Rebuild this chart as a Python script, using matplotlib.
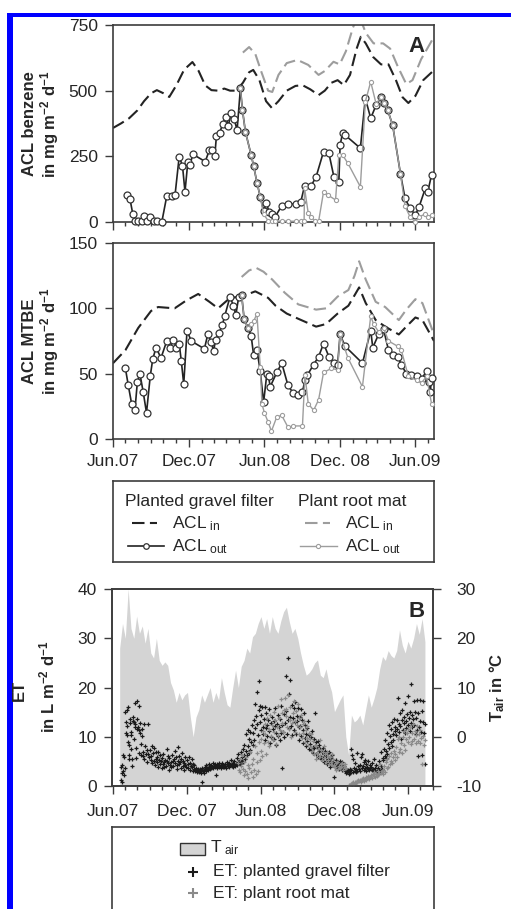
import numpy as np
import pandas as pd
import matplotlib
matplotlib.use("Agg")
import matplotlib.pyplot as plt
import matplotlib.dates as mdates
from matplotlib.patches import Rectangle

plt.rcParams['font.family'] = ['Liberation Sans', 'DejaVu Sans']
plt.rcParams['mathtext.fontset'] = 'custom'
plt.rcParams['mathtext.rm'] = 'Liberation Sans'
plt.rcParams['mathtext.it'] = 'Liberation Sans:italic'
plt.rcParams['mathtext.bf'] = 'Liberation Sans:bold'
plt.rcParams['axes.unicode_minus'] = False

# ---- benzene areal contaminant load (mg m-2 d-1) ----
ben_in_pgf_d = ["2007-06-01", "2007-06-20", "2007-07-10", "2007-07-30", "2007-08-15", "2007-09-01",
                "2007-09-15", "2007-10-01", "2007-10-15", "2007-11-01", "2007-11-20", "2007-12-10",
                "2007-12-25", "2008-01-10", "2008-01-25", "2008-02-10", "2008-02-25", "2008-03-10",
                "2008-03-25", "2008-04-10", "2008-04-25", "2008-05-05", "2008-05-20", "2008-06-05",
                "2008-06-19", "2008-07-05", "2008-07-25", "2008-08-15", "2008-09-01", "2008-09-20",
                "2008-10-10", "2008-10-25", "2008-11-10", "2008-11-25", "2008-12-10", "2008-12-25",
                "2009-01-10", "2009-01-20", "2009-02-01", "2009-02-19", "2009-03-10", "2009-03-28",
                "2009-04-15", "2009-05-01", "2009-05-15", "2009-06-01", "2009-06-20", "2009-07-16"]
ben_in_pgf = [358, 375, 395, 425, 460, 490, 502, 490, 476, 520, 580, 609,
              575, 520, 502, 500, 508, 500, 500, 530, 570, 579, 540, 460,
              434, 460, 500, 518, 521, 505, 483, 500, 530, 540, 521, 560,
              660, 705, 680, 628, 600, 600, 540, 475, 453, 480, 540, 578]

ben_in_prm_d = ["2008-04-10", "2008-04-25", "2008-05-10", "2008-05-25", "2008-06-10", "2008-06-20",
                "2008-07-05", "2008-07-25", "2008-08-20", "2008-09-15", "2008-10-10", "2008-10-25",
                "2008-11-15", "2008-11-30", "2008-12-15", "2009-01-01", "2009-01-15", "2009-02-01",
                "2009-02-20", "2009-03-15", "2009-04-01", "2009-04-20", "2009-05-10", "2009-05-25",
                "2009-06-15", "2009-07-16"]
ben_in_prm = [645, 666, 640, 570, 500, 495, 560, 605, 617, 598, 560, 575,
              610, 600, 650, 740, 790, 720, 680, 680, 660, 590, 525, 540,
              620, 705]

ben_out_pgf_d = ["2007-07-04", "2007-07-12", "2007-07-19", "2007-07-24", "2007-08-01", "2007-08-09",
                 "2007-08-16", "2007-08-22", "2007-08-30", "2007-09-07", "2007-09-15", "2007-09-27",
                 "2007-10-09", "2007-10-21", "2007-10-29", "2007-11-08", "2007-11-16", "2007-11-22",
                 "2007-11-29", "2007-12-04", "2007-12-11", "2008-01-10", "2008-01-20", "2008-01-26",
                 "2008-02-02", "2008-02-06", "2008-02-14", "2008-02-21", "2008-02-29", "2008-03-06",
                 "2008-03-12", "2008-03-20", "2008-03-27", "2008-04-04", "2008-04-09", "2008-04-16",
                 "2008-04-30", "2008-05-06", "2008-05-14", "2008-05-22", "2008-05-30", "2008-06-06",
                 "2008-06-12", "2008-06-19", "2008-06-27", "2008-07-13", "2008-07-28", "2008-08-16",
                 "2008-08-28", "2008-09-06", "2008-09-22", "2008-10-04", "2008-10-22", "2008-11-04",
                 "2008-11-16", "2008-11-28", "2008-12-01", "2008-12-07", "2008-12-13", "2009-01-19",
                 "2009-01-31", "2009-02-13", "2009-02-26", "2009-03-11", "2009-03-18", "2009-03-26",
                 "2009-04-07", "2009-04-26", "2009-05-07", "2009-05-19", "2009-06-01", "2009-06-10",
                 "2009-06-25", "2009-07-01", "2009-07-10"]
ben_out_pgf = [103, 88, 29, 4, 4, 4, 23, 4, 18, 4, 4, 0,
               99, 99, 103, 249, 214, 115, 230, 217, 258, 230, 274, 274,
               251, 327, 340, 373, 401, 365, 416, 391, 350, 509, 426, 344,
               255, 213, 150, 96, 43, 72, 39, 30, 20, 62, 70, 67,
               77, 137, 138, 172, 268, 261, 172, 153, 293, 338, 331, 281,
               471, 395, 445, 477, 452, 426, 369, 183, 90, 52, 27, 58,
               128, 115, 179]

ben_out_prm_d = ["2008-04-04", "2008-04-09", "2008-04-16", "2008-04-30", "2008-05-06", "2008-05-14",
                 "2008-05-22", "2008-05-30", "2008-06-10", "2008-06-19", "2008-06-27", "2008-07-13",
                 "2008-07-28", "2008-08-16", "2008-08-28", "2008-09-05", "2008-09-06", "2008-09-15",
                 "2008-09-22", "2008-10-01", "2008-10-10", "2008-10-22", "2008-11-01", "2008-11-20",
                 "2008-11-28", "2008-12-07", "2008-12-20", "2009-01-19", "2009-01-31", "2009-02-13",
                 "2009-02-26", "2009-03-11", "2009-03-18", "2009-03-26", "2009-04-07", "2009-04-26",
                 "2009-05-07", "2009-05-19", "2009-06-01", "2009-06-10", "2009-06-25", "2009-07-01",
                 "2009-07-10"]
ben_out_prm = [509, 426, 344, 255, 213, 150, 96, 30, 5, 3, 2, 4,
               3, 3, 4, 4, 130, 33, 20, 3, 2, 115, 103, 84,
               255, 255, 223, 134, 458, 534, 450, 477, 452, 426, 369, 183,
               60, 20, 0, 20, 30, 20, 25]

# ---- MTBE areal contaminant load (mg m-2 d-1) ----
mtbe_in_pgf_d = ["2007-06-01", "2007-07-01", "2007-08-01", "2007-09-01", "2007-09-18", "2007-10-28",
                 "2007-11-25", "2007-12-24", "2008-01-20", "2008-02-10", "2008-03-10", "2008-04-07",
                 "2008-05-10", "2008-06-10", "2008-06-28", "2008-07-25", "2008-08-22", "2008-10-04",
                 "2008-10-28", "2008-11-25", "2008-12-21", "2009-01-05", "2009-01-16", "2009-02-01",
                 "2009-02-25", "2009-03-20", "2009-04-22", "2009-05-10", "2009-06-01", "2009-06-18",
                 "2009-07-16"]
mtbe_in_pgf = [58, 68, 85, 98, 101, 100, 106, 111, 105, 100, 108, 109,
               113, 108, 102, 96, 92, 86, 88, 96, 102, 110, 116, 104,
               91, 86, 80, 86, 93, 91, 75]

mtbe_in_prm_d = ["2008-04-07", "2008-04-25", "2008-05-12", "2008-05-30", "2008-06-20", "2008-07-20",
                 "2008-08-22", "2008-10-04", "2008-10-28", "2008-11-25", "2008-12-21", "2009-01-05",
                 "2009-01-16", "2009-02-01", "2009-02-25", "2009-03-20", "2009-04-22", "2009-05-10",
                 "2009-06-01", "2009-06-18", "2009-07-16"]
mtbe_in_prm = [124, 129, 131, 128, 122, 112, 103, 99, 100, 109, 114, 125,
               136, 122, 105, 101, 91, 99, 107, 104, 80]

mtbe_out_pgf_d = ["2007-07-01", "2007-07-08", "2007-07-16", "2007-07-24", "2007-07-30", "2007-08-05",
                  "2007-08-13", "2007-08-21", "2007-08-30", "2007-09-05", "2007-09-13", "2007-09-25",
                  "2007-10-09", "2007-10-17", "2007-10-25", "2007-11-01", "2007-11-08", "2007-11-13",
                  "2007-11-19", "2007-11-27", "2007-12-07", "2008-01-08", "2008-01-16", "2008-01-25",
                  "2008-01-30", "2008-02-04", "2008-02-12", "2008-02-20", "2008-02-26", "2008-03-10",
                  "2008-03-18", "2008-03-24", "2008-03-31", "2008-04-07", "2008-04-13", "2008-04-22",
                  "2008-04-30", "2008-05-06", "2008-05-14", "2008-05-22", "2008-05-30", "2008-06-07",
                  "2008-06-11", "2008-06-15", "2008-07-01", "2008-07-13", "2008-07-28", "2008-08-10",
                  "2008-08-22", "2008-09-01", "2008-09-07", "2008-09-13", "2008-09-28", "2008-10-10",
                  "2008-10-22", "2008-11-04", "2008-11-16", "2008-11-25", "2008-12-01", "2008-12-13",
                  "2009-01-24", "2009-02-13", "2009-02-18", "2009-03-04", "2009-03-16", "2009-03-28",
                  "2009-04-09", "2009-04-19", "2009-04-28", "2009-05-10", "2009-05-22", "2009-06-04",
                  "2009-06-16", "2009-06-28", "2009-07-04", "2009-07-07", "2009-07-10"]
mtbe_out_pgf = [54, 41, 27, 22, 44, 50, 36, 20, 48, 61, 70, 62,
                75, 70, 76, 70, 73, 60, 42, 83, 75, 69, 80, 74,
                67, 76, 81, 87, 94, 109, 102, 95, 109, 110, 92, 85,
                79, 64, 68, 52, 28, 50, 48, 40, 51, 58, 41, 35,
                34, 36, 45, 49, 57, 63, 73, 63, 58, 57, 80, 71,
                58, 83, 70, 80, 84, 68, 64, 63, 57, 50, 49, 48,
                46, 52, 44, 36, 47]

mtbe_out_prm_d = ["2008-04-07", "2008-04-13", "2008-04-22", "2008-04-30", "2008-05-06", "2008-05-14",
                  "2008-05-22", "2008-05-26", "2008-06-01", "2008-06-10", "2008-06-18", "2008-07-01",
                  "2008-07-13", "2008-07-28", "2008-08-10", "2008-09-01", "2008-09-07", "2008-09-15",
                  "2008-09-28", "2008-10-10", "2008-10-22", "2008-11-10", "2008-11-25", "2008-12-01",
                  "2008-12-20", "2009-01-24", "2009-02-13", "2009-02-20", "2009-03-04", "2009-03-16",
                  "2009-03-28", "2009-04-19", "2009-04-28", "2009-05-15", "2009-06-04", "2009-06-16",
                  "2009-06-28", "2009-07-10"]
mtbe_out_prm = [110, 92, 85, 88, 90, 96, 55, 27, 20, 13, 6, 17,
                18, 9, 10, 10, 49, 27, 22, 30, 51, 54, 53, 80,
                62, 40, 94, 88, 82, 85, 75, 71, 68, 48, 45, 43,
                48, 27]

# ---- air temperature, weekly (deg C) ----
t_air_start = "2007-06-18"
t_air = [18, 23, 20, 30, 22, 20, 24.5, 21, 22.5, 19,
         22, 17, 16, 20, 15.5, 14.5, 15.2, 14.5, 11, 9.5,
         7, 9, 7.5, 8.5, 9, 4, 0, 4, 5.5, 8.5,
         7, 8.5, 10, 7, 9, 7.5, 12, 9, 6.5, 6,
         10, 13.5, 10, 14.3, 15.5, 18, 17, 20.3, 21, 23,
         24.4, 22, 24, 21, 24.4, 22, 21, 23.5, 25.4, 26.3,
         23.4, 21, 22, 20, 17, 14.5, 12.5, 13, 13.8, 15,
         15.6, 12.5, 12, 13.8, 11, 9.1, 5.1, 6.3, 7.5, 8.5,
         0, -3.7, 4.4, 3, 3.5, 4.4, 2.4, 5.5, 8.5, 6,
         7.8, 10, 13.8, 16.3, 15.5, 17.5, 16.5, 16, 17.5, 21.7,
         18.6, 17, 19.4, 18, 20, 23, 20.8, 24, 19.3]

# ---- evapotranspiration (L m-2 d-1), day counted from 1 June 2007 ----
et_pgf_day = [20, 21, 22, 23, 24, 25, 26, 27, 28, 29, 31, 32, 33, 34, 35, 36, 37, 38, 39, 40,
              41, 42, 43, 44, 45, 46, 47, 48, 49, 50, 52, 53, 54, 55, 56, 57, 58, 59, 60, 61,
              63, 64, 65, 66, 67, 68, 70, 71, 72, 73, 75, 76, 77, 78, 80, 82, 84, 85, 87, 88,
              90, 92, 94, 95, 97, 98, 100, 101, 103, 104, 106, 107, 109, 110, 112, 113, 115, 116, 118, 119, 121,
              122, 124, 125, 127, 128, 130, 131, 133, 134, 136, 137, 139, 140, 142, 143, 145, 146, 148, 149, 151,
              153, 155, 156, 158, 159, 161, 162, 164, 165, 167, 168, 170, 171, 173, 174, 176, 177, 179, 180, 182,
              184, 186, 187, 189, 190, 192, 193, 195, 196, 198, 199, 201, 202, 204, 205, 207, 208, 210, 211, 213,
              214, 216, 217, 219, 220, 221, 222, 223, 225, 226, 228, 229, 231, 232, 234, 235, 237, 238, 240, 241, 243,
              244, 246, 247, 249, 250, 252, 253, 255, 256, 258, 259, 261, 262, 264, 265, 267, 268, 270, 271, 273,
              274, 276, 277, 279, 280, 282, 283, 285, 286, 288, 289, 291, 292, 294, 295, 297, 298, 300, 301, 303,
              305, 307, 308, 310, 311, 313, 314, 316, 317, 319, 320, 322, 323, 325, 326, 328, 329, 331, 332, 334,
              335, 337, 338, 340, 341, 343, 344, 346, 347, 349, 350, 352, 353, 355, 356, 358, 359, 361, 362, 364,
              365, 367, 368, 370, 371, 373, 374, 376, 377, 379, 380, 382, 383, 385, 386, 388, 389, 391, 392, 394,
              396, 398, 399, 401, 402, 404, 405, 407, 408, 410, 411, 413, 414, 416, 417, 419, 420, 422, 423, 425,
              427, 428, 430, 431, 433, 434, 436, 437, 439, 440, 442, 443, 445, 446, 448, 449, 451, 452, 454, 455,
              457, 458, 460, 461, 463, 464, 466, 467, 469, 470, 472, 473, 475, 476, 478, 479, 481, 482, 484, 485,
              487, 489, 490, 492, 493, 495, 496, 498, 499, 501, 502, 504, 505, 507, 508, 510, 511, 513, 514, 516,
              518, 520, 521, 523, 524, 526, 527, 529, 530, 532, 533, 535, 536, 538, 539, 541, 542, 544, 545, 547,
              549, 550, 552, 553, 555, 556, 558, 559, 561, 562, 564, 565, 567, 568, 570, 571, 573, 574, 576, 577,
              579, 581, 582, 584, 585, 587, 588, 590, 591, 593, 594, 596, 597, 599, 600, 602, 603, 605, 606, 608,
              610, 612, 613, 615, 616, 618, 619, 621, 622, 624, 625, 627, 628, 630, 631, 633, 634, 636, 637,
              639, 641, 642, 644, 645, 647, 648, 650, 651, 653, 654, 656, 657, 659, 660, 662, 663, 665, 666, 668,
              670, 671, 673, 674, 676, 677, 679, 680, 682, 683, 685, 686, 688, 689, 691, 692, 694, 695, 697, 698,
              700, 702, 703, 705, 706, 708, 709, 711, 712, 714, 715, 717, 718, 720, 721, 723, 724, 726, 727, 729,
              730, 732, 733, 735, 736, 738, 739, 741, 742, 744, 745, 747, 748, 750, 751, 753, 754, 756, 757, 759,
              760, 762, 763, 765, 766, 768, 769, 771, 772, 774]
et_pgf = [3.9, 1.2, 2.6, 0.8, 4.2, 3.1, 6.3, 5.8, 2.2, 3.6, 15.1, 13.0, 10.7, 15.5, 10.3, 12.2, 16.1, 9.0, 8.3, 6.3,
          5.5, 12.8, 13.6, 11.0, 10.4, 7.6, 5.4, 4.1, 13.2, 14.0, 9.6, 12.9, 16.8, 11.9, 12.5, 7.8, 5.6, 13.6, 17.2, 11.5,
          12.0, 16.3, 11.3, 6.8, 10.8, 12.7, 6.3, 8.6, 11.6, 10.1, 6.1, 7.0, 12.5, 5.4, 8.2, 6.4, 7.4, 4.9, 12.6, 6.5,
          5.8, 7.4, 6.1, 5.2, 8.1, 4.6, 6.6, 5.0, 7.7, 4.3, 5.5, 6.9, 4.8, 5.9, 3.9, 7.0, 5.3, 4.4, 6.2, 5.1, 3.6,
          5.6, 4.5, 6.4, 4.9, 3.8, 5.3, 4.1, 7.6, 5.0, 4.6, 6.0, 3.3, 5.7, 4.3, 4.9, 3.9, 6.3, 5.1, 4.0, 5.5,
          4.6, 7.2, 5.9, 4.2, 3.5, 5.1, 7.9, 4.5, 6.0, 4.8, 3.7, 5.4, 6.6, 4.1, 5.0, 3.2, 4.7, 5.8, 4.3, 3.9,
          5.2, 4.4, 3.6, 5.9, 4.7, 3.3, 4.0, 5.4, 3.8, 4.5, 3.1, 4.2, 3.5, 3.0, 3.7, 3.2, 2.9, 3.4, 3.1, 2.8,
          3.3, 3.0, 3.5, 2.7, 3.2, 0.9, 3.6, 3.0, 3.3, 2.6, 3.4, 3.9, 3.1, 4.2, 3.6, 3.2, 3.8, 4.4, 3.5, 4.0, 3.7,
          4.3, 3.9, 4.6, 3.6, 4.1, 3.8, 4.5, 2.3, 4.0, 4.4, 3.7, 4.2, 3.9, 4.7, 4.1, 3.6, 4.3, 4.0, 4.6, 3.8,
          4.2, 3.9, 4.5, 4.1, 3.7, 4.4, 4.9, 4.0, 4.3, 3.8, 4.6, 4.2, 5.3, 4.0, 4.4, 3.9, 4.7, 4.3, 5.0, 4.1,
          4.5, 5.6, 4.2, 4.8, 6.4, 4.6, 5.2, 4.4, 6.9, 5.0, 5.8, 7.6, 4.9, 6.2, 8.4, 5.5, 7.1, 10.6, 6.3, 11.3,
          8.2, 6.8, 9.6, 7.4, 10.9, 9.0, 12.3, 8.3, 10.7, 13.5, 9.4, 16.6, 11.8, 14.2, 19.1, 12.6, 10.3, 15.4, 21.4, 13.0,
          16.3, 11.4, 14.5, 16.0, 12.0, 10.6, 13.7, 16.1, 9.4, 11.8, 14.8, 12.4, 10.2, 13.3, 15.6, 11.1, 8.8, 12.7, 10.0, 14.0,
          11.5, 13.2, 9.6, 12.1, 15.9, 10.8, 8.3, 12.6, 14.4, 10.1, 11.9, 9.3, 13.6, 16.2, 10.7, 3.6, 12.3, 11.0, 14.6, 9.9,
          12.8, 22.3, 15.2, 10.5, 13.4, 26.0, 11.7, 18.6, 14.1, 21.5, 12.2, 16.4, 10.3, 13.8, 15.9, 11.4, 12.9, 17.1, 10.6, 14.3,
          13.2, 15.8, 11.9, 9.4, 14.0, 12.1, 15.6, 10.2, 13.5, 8.7, 11.3, 14.9, 9.8, 12.4, 10.6, 8.1, 11.7, 9.2, 13.1, 7.6,
          10.4, 8.6, 9.9, 7.3, 11.2, 8.0, 6.6, 9.5, 7.8, 14.8, 8.9, 6.4, 7.9, 9.1, 5.9, 7.2, 8.4, 6.1, 7.6, 5.4,
          6.9, 7.8, 5.6, 6.5, 4.9, 7.2, 6.0, 5.1, 4.4, 6.8, 5.4, 4.6, 7.0, 5.0, 3.9, 5.7, 4.3, 6.2, 4.8, 1.9,
          4.5, 3.8, 4.3, 5.2, 3.6, 4.7, 4.0, 3.4, 4.4, 5.0, 3.7, 4.2, 3.3, 4.8, 3.9, 3.5, 4.1, 3.0, 3.6, 2.6,
          3.1, 2.8, 3.3, 2.5, 3.0, 3.5, 2.7, 7.5, 3.2, 6.2, 2.9, 5.5, 3.6, 3.1, 4.6, 2.8, 3.4, 6.8, 3.0, 4.1,
          3.5, 4.2, 3.0, 5.8, 3.7, 6.5, 4.0, 3.3, 4.9, 3.6, 5.3, 3.1, 4.4, 3.8, 3.4, 5.0, 3.2, 4.3, 3.7,
          3.9, 3.3, 4.6, 3.0, 3.5, 5.4, 3.2, 3.7, 2.9, 4.2, 3.1, 3.6, 3.0, 5.0, 3.3, 2.8, 4.0, 6.9, 3.4, 5.6,
          5.3, 7.6, 6.0, 9.4, 5.6, 7.2, 10.8, 6.5, 8.6, 12.4, 7.8, 10.2, 9.0, 11.6, 8.1, 12.9, 10.5, 9.3, 13.6, 11.1,
          12.0, 10.4, 13.5, 11.6, 17.8, 12.6, 10.9, 14.8, 12.2, 9.6, 13.3, 15.4, 11.4, 12.8, 14.0, 10.7, 16.9, 13.1, 11.8, 14.6,
          12.4, 18.2, 13.8, 11.2, 15.1, 12.7, 20.7, 14.4, 11.9, 13.6, 17.2, 12.3, 15.0, 10.6, 13.9, 17.4, 11.4, 6.1, 14.8, 12.0,
          17.5, 13.2, 11.0, 15.3, 6.2, 13.0, 17.3, 10.8, 4.5, 12.6]

et_prm_day = [310, 312, 314, 316, 318, 320, 322, 324, 326, 328, 330, 332, 334, 336, 338, 340, 342, 344, 346, 348,
              350, 352, 354, 356, 358, 360, 362, 364,
              366, 368, 370, 372, 374, 376, 378, 380, 382, 384, 386, 388, 390, 392, 394, 396, 398, 400, 402, 404,
              406, 408, 410, 412, 414, 416, 418, 420, 422, 424,
              426, 428, 430, 432, 434, 436, 438, 440, 442, 444, 446, 448, 450, 452, 454, 456, 458, 460, 462, 464,
              466, 468, 470, 472, 474, 476, 478, 480, 482, 484, 486,
              488, 490, 492, 494, 496, 498, 500, 502, 504, 506, 508, 510, 512, 514, 516, 518, 520, 522, 524, 526,
              528, 530, 532, 534, 536, 538, 540, 542, 544, 546,
              548, 550, 552, 554, 556, 558, 560, 562, 564, 566, 568, 570, 572, 574, 576,
              584, 586, 588, 590, 592, 594, 596, 598, 600, 602, 604, 606, 608,
              610, 612, 614, 616, 618, 620, 622, 624, 626, 628, 630, 632, 634, 636,
              638, 640, 642, 644, 646, 648, 650, 652, 654, 656, 658, 660, 662, 664, 666, 668,
              670, 672, 674, 676, 678, 680, 682, 684, 686, 688, 690, 692, 694, 696, 698,
              700, 702, 704, 706, 708, 710, 712, 714, 716, 718, 720, 722, 724, 726, 728,
              730, 732, 734, 736, 738, 740, 742, 744, 746, 748, 750, 752, 754, 756, 758, 760, 762, 764, 766, 768,
              770, 772]
et_prm = [4.6, 3.2, 5.4, 2.8, 4.0, 6.3, 3.5, 2.2, 4.8, 3.0, 5.9, 2.5, 4.2, 1.6, 3.6, 7.0, 2.9, 4.5, 1.9, 5.5,
          3.3, 8.2, 2.4, 4.9, 6.6, 3.1, 9.0, 5.2,
          7.2, 9.5, 6.0, 11.2, 8.8, 12.5, 10.5, 6.5, 13.8, 9.0, 11.6, 8.1, 14.5, 10.2, 12.3, 9.4, 15.1, 11.0, 13.4, 8.6,
          12.0, 16.3, 10.4, 13.9, 11.3, 17.6, 12.7, 14.8, 10.9, 15.5,
          17.8, 15.6, 14.2, 12.0, 18.5, 11.5, 13.5, 16.0, 10.0, 12.8, 14.8, 17.2, 13.1, 11.0, 15.3, 12.4, 16.7, 10.6, 13.8, 11.9,
          14.5, 9.7, 12.6, 10.8, 13.2, 8.9, 11.4, 9.8, 12.1, 8.4, 10.7,
          9.6, 8.0, 10.5, 7.2, 9.1, 6.5, 8.4, 5.5, 8.2, 6.8, 7.6, 5.9, 9.3, 6.2, 7.4, 5.3, 6.9, 8.1, 5.6, 6.4,
          4.8, 7.0, 5.2, 6.1, 4.5, 5.8, 4.9, 6.5, 4.2, 5.4,
          4.2, 3.8, 4.6, 3.2, 4.9, 3.5, 4.0, 3.6, 4.4, 3.9, 4.7, 3.3, 4.1, 3.7, 4.5,
          0.1, 0.3, 0.2, 0.4, 0.6, 0.3, 0.8, 0.5, 0.9, 0.7, 1.0, 0.8, 1.2,
          1.0, 1.3, 0.9, 1.5, 1.2, 1.7, 1.1, 1.4, 1.8, 1.3, 1.6, 2.0, 1.5, 1.9,
          1.8, 2.2, 1.6, 2.5, 2.0, 2.8, 1.9, 2.4, 2.1, 3.0, 2.3, 2.7, 4.5, 2.6, 3.1, 2.4,
          3.2, 4.0, 2.9, 4.8, 3.6, 5.5, 3.9, 6.0, 4.4, 5.1, 6.7, 4.6, 5.8, 7.2, 5.3,
          6.5, 8.0, 5.9, 9.5, 7.0, 10.0, 7.6, 8.8, 6.8, 9.9, 8.3, 11.2, 7.4, 9.6, 10.7,
          9.0, 11.5, 10.0, 12.0, 8.5, 9.2, 10.8, 12.6, 9.5, 11.1, 8.7, 10.3, 12.2, 9.1, 10.6, 8.8, 11.4, 9.7, 4.5, 10.1,
          8.3, 9.4]

# ---- tick labels ----
tick_dates = ["2007-06-01", "2007-12-01", "2008-06-01", "2008-12-01", "2009-06-01"]
tick_lab_top = ["Jun.07", "Dec.07", "Jun.08", "Dec. 08", "Jun.09"]
tick_lab_b = ["Jun.07", "Dec. 07", "Jun.08", "Dec.08", "Jun.09"]

TXT = '#262626'
SPINE = '#3c3c3c'
BLK = '#232323'
GRY = '#9d9d9d'


def dt(lst):
    return np.array(lst, dtype='datetime64[D]')


W, H = 511, 909
fig = plt.figure(figsize=(W / 100, H / 100), dpi=100)


def box(l, t, r, b):
    return [l / W, 1 - b / H, (r - l) / W, (b - t) / H]


def style(ax, labels, xlim):
    ax.set_xlim(dt(xlim))
    ax.set_xticks(dt(tick_dates))
    ax.set_xticklabels(labels)
    ax.xaxis.set_minor_locator(mdates.MonthLocator())
    ax.tick_params(which='both', direction='out', color=SPINE, width=1.0, labelcolor=TXT)
    ax.tick_params(which='major', length=6, labelsize=12.5)
    ax.tick_params(which='minor', length=3)
    ax.tick_params(axis='x', pad=5)
    ax.tick_params(axis='y', pad=5)
    for s in ax.spines.values():
        s.set_color(SPINE)
        s.set_linewidth(1.2)


# blue frame along left and top edge
fig.add_artist(Rectangle((7 / W, 0), 6 / W, 1 - 13 / H, transform=fig.transFigure,
                         color='#0000ff', lw=0))
fig.add_artist(Rectangle((7 / W, 1 - 17 / H), 1 - 7 / W, 4 / H, transform=fig.transFigure,
                         color='#0000ff', lw=0))

dash = (0, (6, 2.6))

# ---- panel A: benzene ----
axA = fig.add_axes(box(113, 25, 434, 222))
axA.plot(dt(ben_in_pgf_d), ben_in_pgf, color=BLK, lw=1.5, ls=dash)
axA.plot(dt(ben_in_prm_d), ben_in_prm, color=GRY, lw=1.5, ls=dash)
axA.plot(dt(ben_out_pgf_d), ben_out_pgf, color=BLK, lw=1.2, marker='o', ms=5,
         mfc='white', mec='#333333', mew=0.9, clip_on=False, zorder=3)
axA.plot(dt(ben_out_prm_d), ben_out_prm, color=GRY, lw=1.0, marker='o', ms=3,
         mfc='white', mec=GRY, mew=0.8, clip_on=False, zorder=4)
axA.set_ylim(0, 750)
axA.set_yticks([0, 250, 500, 750])
style(axA, tick_lab_top, ["2007-06-01", "2009-07-16"])
axA.tick_params(labelbottom=False)
axA.text(0.947, 0.893, 'A', transform=axA.transAxes, fontsize=16, fontweight='bold',
         color=TXT, ha='center', va='center')

# ---- panel A: MTBE ----
axM = fig.add_axes(box(113, 243, 434, 439))
axM.plot(dt(mtbe_in_pgf_d), mtbe_in_pgf, color=BLK, lw=1.5, ls=dash)
axM.plot(dt(mtbe_in_prm_d), mtbe_in_prm, color=GRY, lw=1.5, ls=dash)
axM.plot(dt(mtbe_out_pgf_d), mtbe_out_pgf, color=BLK, lw=1.2, marker='o', ms=5,
         mfc='white', mec='#333333', mew=0.9, clip_on=False, zorder=3)
axM.plot(dt(mtbe_out_prm_d), mtbe_out_prm, color=GRY, lw=1.0, marker='o', ms=3,
         mfc='white', mec=GRY, mew=0.8, clip_on=False, zorder=4)
axM.set_ylim(0, 150)
axM.set_yticks([0, 50, 100, 150])
style(axM, tick_lab_top, ["2007-06-01", "2009-07-16"])

# y labels, two lines each
lab_kw = dict(rotation=90, ha='center', va='center', fontsize=12, fontweight='bold', color=TXT)
fig.text(30 / W, 1 - 124 / H, "ACL benzene", **lab_kw)
fig.text(50 / W, 1 - 124 / H, r"in mg m$^{\mathbf{-2}}$ d$^{\mathbf{-1}}$", **lab_kw)
fig.text(30 / W, 1 - 341 / H, "ACL MTBE", **lab_kw)
fig.text(50 / W, 1 - 341 / H, r"in mg m$^{\mathbf{-2}}$ d$^{\mathbf{-1}}$", **lab_kw)

# ---- legend box for the load panels ----
axL = fig.add_axes(box(113, 481, 434, 562))
axL.set_xlim(0, 1)
axL.set_ylim(0, 1)
axL.set_xticks([])
axL.set_yticks([])
for s in axL.spines.values():
    s.set_color(SPINE)
    s.set_linewidth(1.2)
leg_kw = dict(fontsize=12.5, color=TXT, va='baseline', ha='left')
axL.text(0.037, 0.69, "Planted gravel filter", **leg_kw)
axL.text(0.576, 0.69, "Plant root mat", **leg_kw)
axL.plot([0.059, 0.137], [0.48, 0.48], color=BLK, lw=1.5, ls=dash)
axL.plot([0.598, 0.676], [0.48, 0.48], color=GRY, lw=1.5, ls=dash)
axL.plot([0.047, 0.159], [0.2, 0.2], color=BLK, lw=1.2)
axL.plot([0.103], [0.2], color=BLK, marker='o', ms=4, mfc='white', mec='#333333', mew=0.9)
axL.plot([0.583, 0.698], [0.2, 0.2], color=GRY, lw=1.0)
axL.plot([0.64], [0.2], color=GRY, marker='o', ms=3, mfc='white', mec=GRY, mew=0.8)
axL.text(0.184, 0.42, r"ACL$_{\ \mathrm{in}}$", **leg_kw)
axL.text(0.184, 0.136, r"ACL$_{\ \mathrm{out}}$", **leg_kw)
axL.text(0.723, 0.42, r"ACL$_{\ \mathrm{in}}$", **leg_kw)
axL.text(0.723, 0.136, r"ACL$_{\ \mathrm{out}}$", **leg_kw)

# ---- panel B: ET and air temperature ----
axB = fig.add_axes(box(112, 589, 433, 786))
axT = axB.twinx()
t_dates = np.datetime64(t_air_start) + np.arange(len(t_air)) * np.timedelta64(7, 'D')
axT.fill_between(t_dates, -10, t_air, color='#d4d4d4', lw=0)
axT.set_ylim(-10, 30)
axT.set_yticks([-10, 0, 10, 20, 30])
axB.set_zorder(axT.get_zorder() + 1)
axB.patch.set_visible(False)

day0 = np.datetime64("2007-06-01")
axB.plot(day0 + np.array(et_pgf_day).astype('timedelta64[D]'), et_pgf, ls='none',
         marker='+', ms=3.2, mew=0.9, color='#1a1a1a')
axB.plot(day0 + np.array(et_prm_day).astype('timedelta64[D]'), et_prm, ls='none',
         marker='+', ms=3.2, mew=0.9, color='#8a8a8a')
axB.set_ylim(0, 40)
axB.set_yticks([0, 10, 20, 30, 40])
style(axB, tick_lab_b, ["2007-05-30", "2009-08-02"])
axB.tick_params(axis='x', pad=7)
axT.tick_params(direction='out', length=6, width=1.0, color=SPINE, labelsize=12.5,
                labelcolor=TXT, pad=11)
for s in axT.spines.values():
    s.set_color(SPINE)
    s.set_linewidth(1.2)
axB.text(0.95, 0.888, 'B', transform=axB.transAxes, fontsize=16, fontweight='bold',
         color=TXT, ha='center', va='center')

fig.text(19 / W, 1 - 690 / H, "ET", **lab_kw)
fig.text(47 / W, 1 - 687 / H, r"in L m$^{\mathbf{-2}}$ d$^{\mathbf{-1}}$", **lab_kw)
fig.text(497 / W, 1 - 687 / H, r"T$_{\mathbf{air}}$ in °C", **lab_kw)

# ---- legend box for panel B ----
axLB = fig.add_axes(box(112, 827, 434, 960))
axLB.set_xlim(0, 1)
axLB.set_ylim(0, 1)
axLB.set_xticks([])
axLB.set_yticks([])
for s in axLB.spines.values():
    s.set_color(SPINE)
    s.set_linewidth(1.2)
axLB.add_patch(Rectangle((0.211, 0.789), 0.078, 0.091, facecolor='#d4d4d4',
                         edgecolor='#333333', lw=1.0))
axLB.text(0.304, 0.812, r"T$_{\ \mathrm{air}}$", **leg_kw)
axLB.plot([0.252], [0.662], ls='none', marker='+', ms=7, mew=1.5, color='#1a1a1a')
axLB.plot([0.252], [0.504], ls='none', marker='+', ms=7, mew=1.5, color='#8a8a8a')
axLB.text(0.314, 0.632, "ET: planted gravel filter", **leg_kw)
axLB.text(0.314, 0.466, "ET: plant root mat", **leg_kw)

fig.savefig("out.png", dpi=100)
